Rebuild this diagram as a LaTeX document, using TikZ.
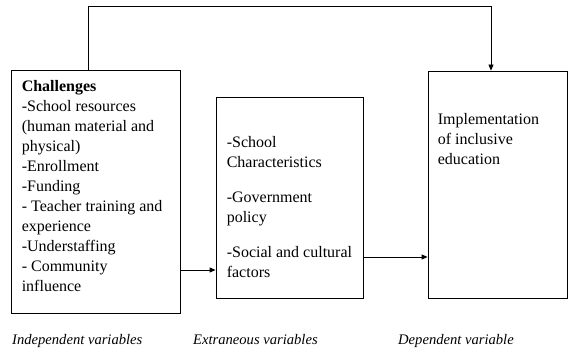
\documentclass[tikz,border=0pt]{standalone}
\usepackage{fontspec}
\setmainfont{Liberation Serif}
\usetikzlibrary{arrows.meta}
\tikzstyle{block} = [draw, line width=0.8pt, inner sep=0pt]
\tikzstyle{arrow} = [-{Triangle[length=6pt, width=5pt]}, line width=0.8pt]
\tikzstyle{boxtext} = [anchor=north west, inner sep=0pt, align=left,
	font=\fontsize{16}{20}\selectfont]
\tikzstyle{varlabel} = [anchor=base west, inner sep=0pt,
	font=\fontsize{14.6}{17}\selectfont\itshape]

\begin{document}
\begin{tikzpicture}[x=1pt, y=1pt]
			\useasboundingbox (0,0) rectangle (571,357);
			
			\node (indep)[block, minimum width=169pt, minimum height=243pt] at (95.5,165.5) {};
			\node (extra)[block, minimum width=147pt, minimum height=201pt] at (289.5,159.5) {};
			\node (dep)[block, minimum width=139pt, minimum height=227pt] at (497.5,172.5) {};
			
			\node (indeptext)[boxtext] at ([shift={(11pt,-11pt)}]indep.north west)
				{\textbf{Challenges}\\-School resources\\(human material and\\physical)\\-Enrollment\\-Funding\\- Teacher training and\\experience\\-Understaffing\\- Community\\influence};
			\node (extratext)[boxtext] at ([shift={(11pt,-40pt)}]extra.north west)
				{-School\\Characteristics\\[15pt]-Government\\policy\\[15pt]-Social and cultural\\factors};
			\node (deptext)[boxtext] at ([shift={(10pt,-43pt)}]dep.north west)
				{Implementation\\of inclusive\\education};
			
			\draw [arrow] ([yshift=-78.5pt]indep.east) -- ([yshift=-72.5pt]extra.west);
			\draw [arrow] ([yshift=-59.5pt]extra.east) -- ([yshift=-72.5pt]dep.west);
			\draw [arrow] ([xshift=-7.5pt]indep.north) -- ++(0,63) -| ([xshift=-6.5pt]dep.north);
			
			\node (indeplabel)[varlabel] at (12,13) {Independent variables};
			\node (extralabel)[varlabel] at (193,13) {Extraneous variables};
			\node (deplabel)[varlabel] at (398,13) {Dependent variable};
		\end{tikzpicture}
\end{document}
